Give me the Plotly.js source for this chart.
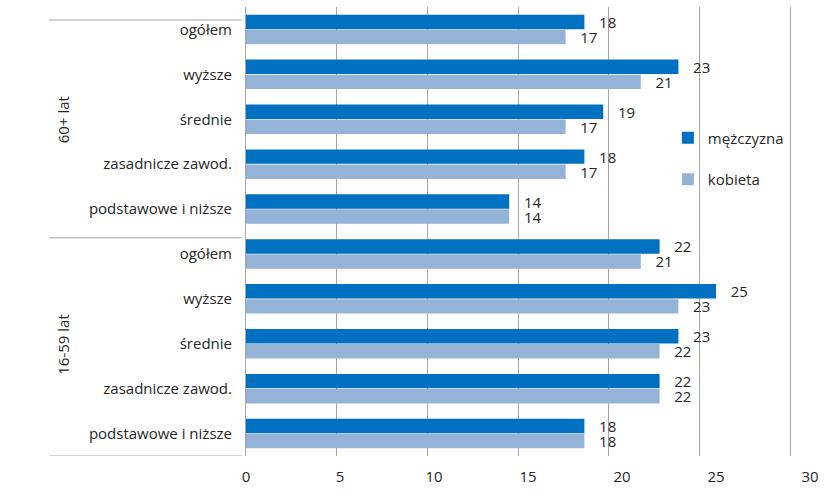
<!DOCTYPE html>
<html>
<head>
<meta charset="utf-8">
<script src="https://cdn.plot.ly/plotly-3.0.1.min.js"></script>
<style>html,body{margin:0;padding:0;background:#fff;}#chart{width:835px;height:494px;}</style>
</head>
<body>
<div id="chart"></div>
<script>
const groups = ["60+ lat", "16-59 lat"];
const subcategories = ["ogółem", "wyższe", "średnie", "zasadnicze zawod.", "podstawowe i niższe"];
const seriesNames = ["mężczyzna", "kobieta"];
const men60 = [18, 23, 19, 18, 14];
const women60 = [17, 21, 17, 17, 14];
const men1659 = [22, 25, 23, 22, 18];
const women1659 = [21, 23, 22, 22, 18];
const xTicks = [0, 5, 10, 15, 20, 25, 30];

const menValues = men60.concat(men1659);
const womenValues = women60.concat(women1659);
const labels = subcategories.concat(subcategories);
const positions = labels.map((_, i) => i);

const FONT = "Open Sans, Noto Sans, sans-serif";
const FS = 15;
const TXT = "#262626";
const colors = ["#0070C0", "#95B3D7"];

function barTrace(name, values, color, group) {
  return {
    type: "bar", orientation: "h", name: name, legendgroup: group,
    x: values, y: positions,
    marker: {color: color},
    texttemplate: "\u00a0\u00a0\u00a0%{x}",
    textposition: "outside", constraintext: "none", cliponaxis: false,
    textfont: {family: FONT, size: FS, color: TXT},
    hoverinfo: "skip"
  };
}

const data = [
  barTrace(seriesNames[0], menValues, colors[0], "g1"),
  barTrace(seriesNames[1], womenValues, colors[1], "g2"),
  {type: "scatter", x: [], y: [], xaxis: "x2", showlegend: false, hoverinfo: "skip"}
];

const grey = "#A6A6A6";
const shapes = [-0.21, 4.64, 9.5].map(v => ({
  type: "line", xref: "paper", yref: "y", x0: -0.349, x1: -0.007, y0: v, y1: v,
  line: {color: grey, width: 1}
}));

const annotations = groups.map((g, i) => ({
  text: g, xref: "paper", yref: "y", x: -0.3245, y: i * 5 + 2,
  textangle: -90, showarrow: false, xanchor: "center", yanchor: "middle",
  font: {family: FONT, size: FS, color: TXT}
}));

const layout = {
  width: 835, height: 494,
  margin: {l: 246, r: 25, t: 7, b: 38},
  paper_bgcolor: "#fff", plot_bgcolor: "rgba(0,0,0,0)",
  barmode: "group", bargap: 0.33, bargroupgap: 0.04,
  font: {family: FONT, size: FS, color: TXT},
  xaxis: {
    range: [0, 30], tickvals: xTicks, ticktext: xTicks.map(String),
    showgrid: false, zeroline: false, showline: false, ticks: "",
    ticklabelstandoff: 10,
    tickfont: {family: FONT, size: FS, color: TXT}, fixedrange: true
  },
  xaxis2: {
    overlaying: "x", range: [0, 31.1], dtick: 5, tick0: 0,
    showgrid: true, gridcolor: grey, gridwidth: 1,
    showticklabels: false, zeroline: false, showline: false, ticks: ""
  },
  yaxis: {
    range: [9.5, -0.5], tickvals: positions, ticktext: labels,
    showgrid: false, zeroline: false, showline: true, linecolor: grey, linewidth: 1,
    ticks: "", ticklabelstandoff: 10,
    tickfont: {family: FONT, size: FS, color: TXT}, fixedrange: true
  },
  legend: {
    x: 0.748, xanchor: "left", y: 0.745, yanchor: "top",
    bgcolor: "rgba(0,0,0,0)", borderwidth: 0,
    traceorder: "grouped", tracegroupgap: 19,
    font: {family: FONT, size: FS, color: TXT}
  },
  shapes: shapes,
  annotations: annotations,
  showlegend: true
};

Plotly.newPlot("chart", data, layout, {displayModeBar: false, staticPlot: true});
</script>
</body>
</html>
